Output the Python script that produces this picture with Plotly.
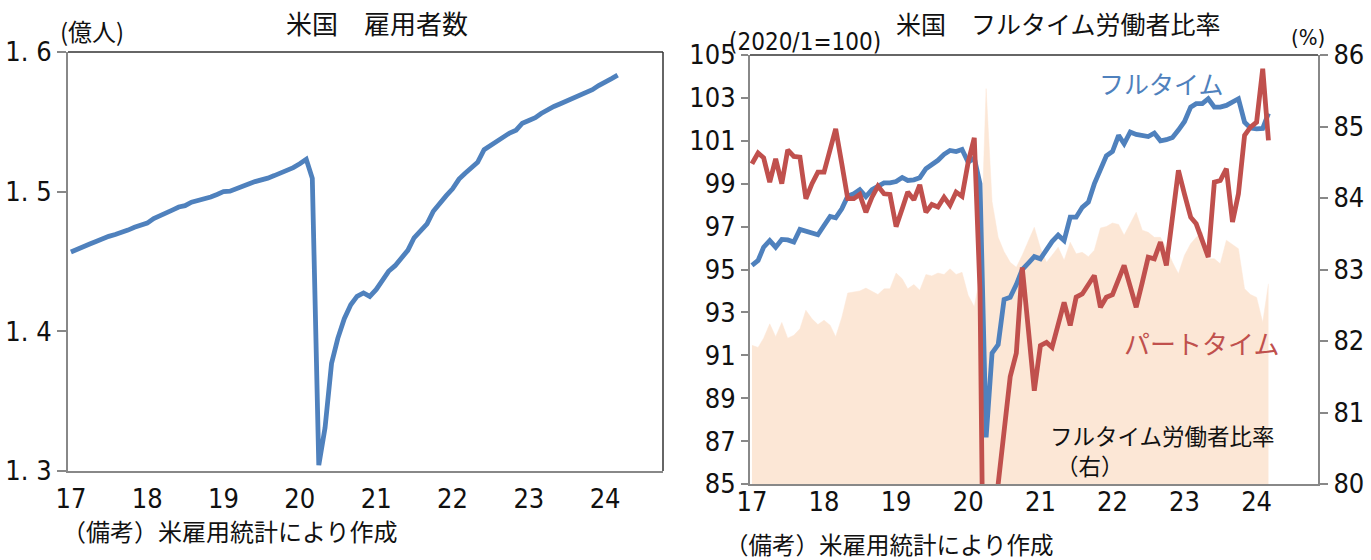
import pandas as pd
import plotly.graph_objects as go

# colors
blue = '#4F81BD'
red = '#C0504D'
peach = '#FCE7D6'
gray = '#888888'
ink = '#111111'

num_font = 'DejaVu Sans Condensed, Liberation Sans Narrow, Noto Sans CJK JP'
jp_font = 'Noto Sans CJK JP'

# monthly, 2017/1 - 2024/3
months = pd.date_range('2017-01-01', periods=87, freq='MS')

# US payroll employment (100 million persons)
employment = [
    1.4568, 1.4590, 1.4603, 1.4625, 1.4643, 1.4665, 1.4680, 1.4693, 1.4705, 1.4725, 1.4745, 1.4760,
    1.4775, 1.4808, 1.4825, 1.4843, 1.4868, 1.4890, 1.4900, 1.4925, 1.4935, 1.4950, 1.4962, 1.4980,
    1.5000, 1.5003, 1.5020, 1.5045, 1.5055, 1.5072, 1.5080, 1.5097, 1.5115, 1.5133, 1.5160, 1.5172,
    1.5200, 1.5232, 1.5095, 1.3042, 1.3310, 1.3770, 1.3950, 1.4090, 1.4190, 1.4250, 1.4275, 1.4250,
    1.4300, 1.4365, 1.4430, 1.4470, 1.4520, 1.4580, 1.4670, 1.4720, 1.4770, 1.4860, 1.4920, 1.4970,
    1.5020, 1.5090, 1.5130, 1.5170, 1.5210, 1.5300, 1.5330, 1.5360, 1.5400, 1.5420, 1.5440, 1.5490,
    1.5510, 1.5530, 1.5560, 1.5590, 1.5610, 1.5630, 1.5650, 1.5670, 1.5690, 1.5705, 1.5730, 1.5760,
    1.5790, 1.5810, 1.5835,
]

# full-time workers index (2020/1=100)
full_time = [
    95.19, 95.42, 96.04, 96.35, 96.04, 96.40, 96.38, 96.28, 96.87, 96.79, 96.73, 96.62,
    97.05, 97.47, 97.41, 97.83, 98.42, 98.53, 98.72, 98.40, 98.72, 98.87, 99.04, 99.04,
    99.10, 99.29, 99.15, 99.18, 99.28, 99.70, 99.90, 100.09, 100.37, 100.55, 100.50, 100.60,
    100.00, 100.20, 99.00, 87.17, 91.10, 91.50, 93.60, 93.70, 94.30, 95.00, 95.30, 95.60,
    95.50, 95.90, 96.30, 96.60, 96.35, 97.44, 97.44, 97.90, 98.14, 98.99, 99.60, 100.30,
    100.50, 101.25, 100.86, 101.41, 101.30, 101.25, 101.20, 101.36, 101.00, 101.05, 101.15, 101.50,
    101.90, 102.57, 102.73, 102.73, 102.96, 102.57, 102.57, 102.65, 102.80, 102.96, 101.87, 101.60,
    101.56, 101.58, 102.28,
]

# part-time workers index (2020/1=100)
part_time = [
    99.93, 100.43, 100.21, 99.07, 100.16, 99.00, 100.58, 100.27, 100.24, 98.30, 99.00, 99.54,
    99.54, 100.55, 101.56, 99.93, 98.30, 98.30, 98.50, 97.67, 98.37, 98.89, 98.53, 98.50,
    97.00, 97.83, 98.61, 98.25, 98.95, 97.67, 98.03, 97.91, 98.37, 97.99, 98.61, 98.41,
    100.00, 101.14, 94.00, 68.00, 78.00, 85.00, 87.50, 90.00, 91.10, 95.10, 92.20, 89.35,
    91.45, 91.60, 91.37, 92.40, 93.47, 92.39, 93.71, 93.86, 94.30, 94.72, 93.24, 93.71,
    93.83, 94.50, 95.19, 94.20, 93.24, 94.40, 95.57, 95.50, 96.28, 95.19, 97.40, 99.62,
    98.50, 97.44, 97.13, 96.30, 95.58, 99.07, 99.15, 99.70, 97.21, 98.53, 101.25, 101.64,
    101.87, 104.36, 101.02,
]

# full-time share of workers (%, right axis)
ft_ratio = [
    81.94, 81.91, 82.04, 82.24, 82.06, 82.26, 82.04, 82.08, 82.17, 82.43, 82.31, 82.23,
    82.29, 82.22, 82.06, 82.33, 82.67, 82.68, 82.70, 82.74, 82.70, 82.65, 82.73, 82.73,
    82.95, 82.87, 82.73, 82.79, 82.71, 82.93, 82.91, 82.95, 82.93, 83.01, 82.93, 82.96,
    82.64, 82.48, 82.90, 85.53, 83.95, 83.45, 83.25, 83.10, 83.03, 83.20, 83.40, 83.59,
    83.30, 83.10, 83.20, 83.31, 83.13, 83.38, 83.22, 83.24, 83.18, 83.27, 83.58, 83.60,
    83.65, 83.63, 83.48, 83.65, 83.80, 83.55, 83.52, 83.45, 83.45, 83.30, 83.10, 82.94,
    83.20, 83.36, 83.45, 83.52, 83.15, 83.15, 83.08, 83.41, 83.35, 83.29, 82.73, 82.65,
    82.61, 82.26, 82.80,
]

left_yticks = [1.3, 1.4, 1.5, 1.6]
left_ytext = ['1. 3', '1. 4', '1. 5', '1. 6']

W, H = 1371, 560


def px(x):
    return x / W


def py(y):
    return 1 - y / H


fig = go.Figure()

fig.add_trace(go.Scatter(x=months, y=employment, xaxis='x', yaxis='y', mode='lines',
                         line=dict(color=blue, width=4.8), showlegend=False))

# area on the base (right) axis so the lines sit on top
fig.add_trace(go.Scatter(x=months, y=ft_ratio, xaxis='x2', yaxis='y2', mode='lines',
                         fill='tozeroy', fillcolor=peach, line=dict(color=peach, width=0.5),
                         showlegend=False))
fig.add_trace(go.Scatter(x=months, y=full_time, xaxis='x2', yaxis='y3', mode='lines',
                         line=dict(color=blue, width=4.8), showlegend=False))
fig.add_trace(go.Scatter(x=months, y=part_time, xaxis='x2', yaxis='y3', mode='lines',
                         line=dict(color=red, width=4.8), showlegend=False))

axis_common = dict(showgrid=False, zeroline=False, showline=True, linecolor=gray, linewidth=2,
                   automargin=False,
                   tickfont=dict(family=num_font, size=27, color=ink))

fig.update_layout(
    width=W, height=H,
    margin=dict(l=0, r=0, t=0, b=0),
    paper_bgcolor='white', plot_bgcolor='rgba(0,0,0,0)',
    xaxis=dict(domain=[px(68), px(663)], anchor='y',
               range=['2016-12-18', '2024-10-04'], type='date',
               tick0='2017-01-01', dtick='M12', tickformat='%y', ticks='',
               ticklabelstandoff=3, **axis_common),
    yaxis=dict(domain=[py(471), py(52)], anchor='x', range=[1.3, 1.6],
               tickvals=left_yticks, ticktext=left_ytext,
               ticks='outside', ticklen=9, tickwidth=2, tickcolor=gray, **axis_common),
    xaxis2=dict(domain=[px(750), px(1318)], anchor='y2',
                range=['2016-12-22', '2024-11-07'], type='date',
                tick0='2017-01-01', dtick='M12', tickformat='%y', ticks='',
                ticklabelstandoff=-7, **axis_common),
    yaxis2=dict(domain=[py(484), py(55)], anchor='x2', side='right', range=[80, 86],
                tick0=80, dtick=1,
                ticks='outside', ticklen=8, tickwidth=2, tickcolor=gray, **axis_common),
    yaxis3=dict(anchor='x2', overlaying='y2', side='left', range=[85, 105], tick0=85, dtick=2,
                ticks='outside', ticklen=7, tickwidth=2, tickcolor=gray, **axis_common),
)

# dark top/right frame lines
for xr, yr, pts in [('x domain', 'y domain', [(0, 1, 1, 1), (1, 0, 1, 1)]),
                    ('x2 domain', 'y2 domain', [(0, 1, 1, 1)])]:
    for x0, y0, x1, y1 in pts:
        fig.add_shape(type='line', xref=xr, yref=yr, x0=x0, y0=y0, x1=x1, y1=y1,
                      line=dict(color='#333333', width=1.5))


def note(text, x, y, size=25, color=ink, xanchor='left', family=jp_font):
    fig.add_annotation(text=text, x=px(x), y=py(y), xref='paper', yref='paper',
                       xanchor=xanchor, yanchor='middle', showarrow=False,
                       font=dict(family=family, size=size, color=color))


note('米国　雇用者数', 377, 23, size=26, xanchor='center')
note('(億人)', 58, 30, size=24)
note('（備考）米雇用統計により作成', 60, 530, size=24)

note('米国　フルタイム労働者比率', 1058, 23, xanchor='center')
note('(2020/1=100)', 727, 42, size=24, family=num_font)
note('(%)', 1327, 38, size=22, family=num_font, xanchor='right')
note('フルタイム', 1161, 83, size=25, color=blue, xanchor='center')
note('パートタイム', 1201, 342, size=26, color=red, xanchor='center')
note('フルタイム労働者比率', 1048, 435, size=22.5)
note('（右）', 1054, 465, size=22.5)
note('（備考）米雇用統計により作成', 723, 544, size=23.5)

# drop the default page margin so the figure sits at the window corner
fig.write_html('out.html', config={'displayModeBar': False},
               post_script="document.body.style.margin='0';document.body.style.overflow='hidden';")
